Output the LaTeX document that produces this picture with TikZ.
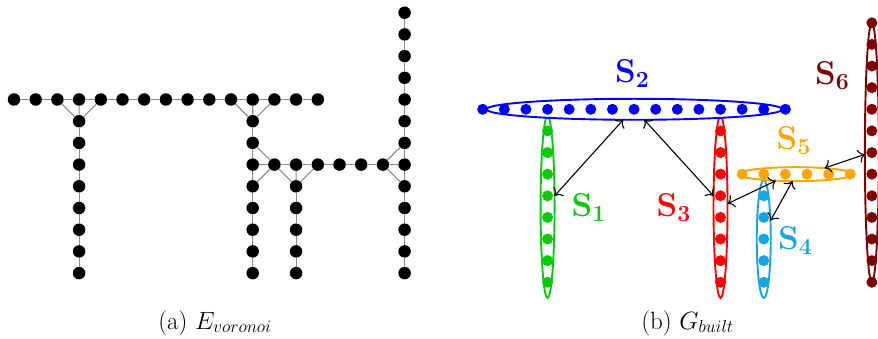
\RequirePackage{fix-cm}
\documentclass[tikz,border=0pt]{standalone}
\usetikzlibrary{shapes.geometric,arrows.meta}
\definecolor{cgreen}{RGB}{10,200,10}
\definecolor{cblue}{RGB}{0,0,255}
\definecolor{cred}{RGB}{255,0,0}
\definecolor{ccyan}{RGB}{20,165,230}
\definecolor{corange}{RGB}{255,165,0}
\definecolor{cmaroon}{RGB}{125,0,0}
\tikzset{
  ldot/.style={circle, fill=black, inner sep=0pt, minimum size=12.5pt},
  ledge/.style={draw=black!45, line width=1.1pt},
  rdot/.style={circle, fill=#1, inner sep=0pt, minimum size=11pt},
  sset/.style={ellipse, draw=#1, fill=white, line width=1.9pt, inner sep=0pt, outer sep=0pt},
  arr/.style={<->, >={To[scale=1.6]}, line width=1.1pt, black},
  slabel/.style={font=\fontsize{33}{33}\selectfont, anchor=base west, inner sep=0pt},
  caption/.style={font=\fontsize{25}{28}\selectfont, anchor=base, inner sep=0pt}
}
\begin{document}
\begin{tikzpicture}[x=1pt,y=-1pt]
\useasboundingbox (0,0) rectangle (878,339);
% ---------------- left panel ----------------
\foreach \i in {0,...,14} \node[ldot] (L\i-4) at ({14+21.7*\i},99.5) {};
\foreach \k in {5,...,12} {
  \node[ldot] (L3-\k) at ({14+21.7*3},{99.5+21.7*(\k-4)}) {};
  \node[ldot] (L11-\k) at ({14+21.7*11},{99.5+21.7*(\k-4)}) {};
}
\foreach \i in {12,...,17} \node[ldot] (L\i-7) at ({14+21.7*\i},{99.5+21.7*3}) {};
\foreach \k in {8,...,12} \node[ldot] (L13-\k) at ({14+21.7*13},{99.5+21.7*(\k-4)}) {};
\foreach \k in {0,...,12} \node[ldot] (L18-\k) at ({14+21.7*18},{99.5+21.7*(\k-4)}) {};
\foreach \i [evaluate=\i as \n using int(\i+1)] in {0,...,13} \draw[ledge] (L\i-4) -- (L\n-4);
\draw[ledge] (L2-4) -- (L3-5) (L3-4) -- (L3-5) (L4-4) -- (L3-5);
\foreach \k [evaluate=\k as \n using int(\k+1)] in {5,...,11} \draw[ledge] (L3-\k) -- (L3-\n) (L11-\k) -- (L11-\n);
\draw[ledge] (L10-4) -- (L11-5) (L11-4) -- (L11-5) (L12-4) -- (L11-5);
\draw[ledge] (L11-6) -- (L12-7) (L11-7) -- (L12-7) (L11-8) -- (L12-7);
\foreach \i [evaluate=\i as \n using int(\i+1)] in {12,...,16} \draw[ledge] (L\i-7) -- (L\n-7);
\draw[ledge] (L12-7) -- (L13-8) (L13-7) -- (L13-8) (L14-7) -- (L13-8);
\foreach \k [evaluate=\k as \n using int(\k+1)] in {8,...,11} \draw[ledge] (L13-\k) -- (L13-\n);
\draw[ledge] (L17-7) -- (L18-6) (L17-7) -- (L18-7) (L17-7) -- (L18-8);
\foreach \k [evaluate=\k as \n using int(\k+1)] in {0,...,11} \draw[ledge] (L18-\k) -- (L18-\n);
\node[caption] (capA) at (215,329) {(a) $E_{voronoi}$};
% ---------------- right panel ----------------
% S1
\node[sset=cgreen, minimum width=14pt, minimum height=182pt] (S1) at ({482.7+21.62*3},207) {};
\foreach \k in {5,...,12} \node[rdot=cgreen] (R3-\k) at ({482.7+21.62*3},{109.3+21.62*(\k-4)}) {};
% S3
\node[sset=cred, minimum width=14pt, minimum height=182pt] (S3) at ({482.7+21.62*11},207) {};
\foreach \k in {5,...,12} \node[rdot=cred] (R11-\k) at ({482.7+21.62*11},{109.3+21.62*(\k-4)}) {};
% S2
\node[sset=cblue, minimum width=296pt, minimum height=21pt] (S2) at (634.5,109.3) {};
\foreach \i in {0,...,14} \node[rdot=cblue] (R\i-4) at ({482.7+21.62*\i},109.3) {};
% S4
\node[sset=ccyan, minimum width=14pt, minimum height=118pt] (S4) at ({482.7+21.62*13},239) {};
\foreach \k in {8,...,12} \node[rdot=ccyan] (R13-\k) at ({482.7+21.62*13},{109.3+21.62*(\k-4)}) {};
% S5
\node[sset=corange, minimum width=114pt, minimum height=14pt] (S5) at (796,{109.3+21.62*3}) {};
\foreach \i in {12,...,17} \node[rdot=corange] (R\i-7) at ({482.7+21.62*\i},{109.3+21.62*3}) {};
% S6
\node[sset=cmaroon, minimum width=14pt, minimum height=260pt] (S6) at ({482.7+21.62*18},152.5) {};
\foreach \k in {0,...,12} \node[rdot=cmaroon] (R18-\k) at ({482.7+21.62*18},{109.3+21.62*(\k-4)}) {};
% arrows
\draw[arr] (S1.58) -- (S2.223);
\draw[arr] (S2.313) -- (S3.122);
\draw[arr] (S3.25) -- (S5.198);
\draw[arr] (S5.243) -- (S4.70);
\draw[arr] (S5.12) -- (S6.195);
% labels
\node[slabel, text=cgreen] (l1) at (571.5,216.5) {$\mathbf{S_1}$};
\node[slabel, text=cblue] (l2) at (615,83) {$\mathbf{S_2}$};
\node[slabel, text=cred] (l3) at (656.5,216.5) {$\mathbf{S_3}$};
\node[slabel, text=ccyan] (l4) at (778,250) {$\mathbf{S_4}$};
\node[slabel, text=corange] (l5) at (776.5,150) {$\mathbf{S_5}$};
\node[slabel, text=cmaroon] (l6) at (815,85) {$\mathbf{S_6}$};
\node[caption] (capB) at (687.5,329) {(b) $G_{built}$};
\end{tikzpicture}
\end{document}
